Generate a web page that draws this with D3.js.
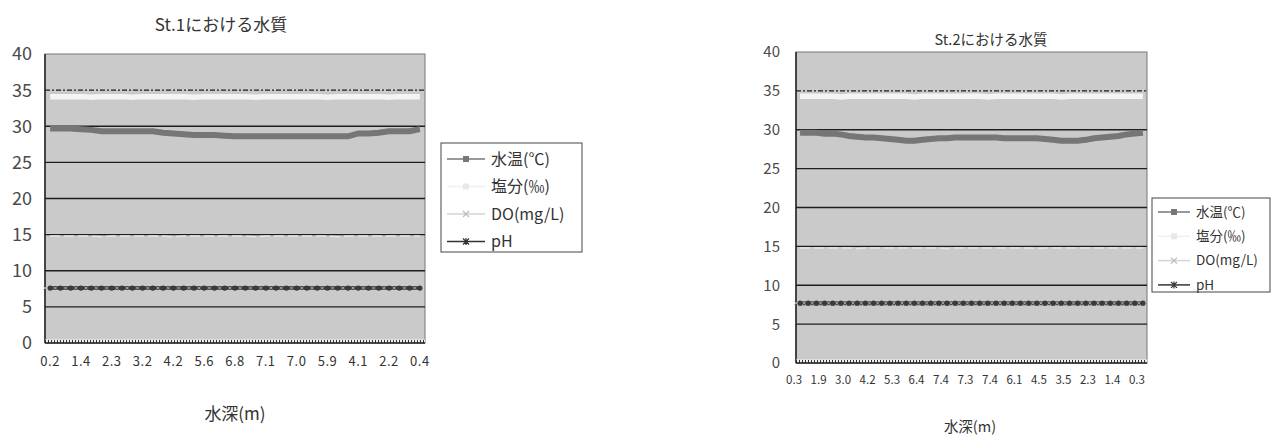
<!DOCTYPE html>
<html>
<head>
<meta charset="utf-8">
<script src="https://cdn.jsdelivr.net/npm/d3@7"></script>
<style>
  body { margin: 0; background: #fff; }
  svg { display: block; font-family: "Noto Sans CJK JP", "Noto Sans", sans-serif; }
</style>
</head>
<body>
<svg id="chart" width="1279" height="436"></svg>
<script>
// series names (legend)
const seriesNames = ['水温(℃)', '塩分(‰)', 'DO(mg/L)', 'pH'];
const yTicks = [0, 5, 10, 15, 20, 25, 30, 35, 40];

// St.1 - 37 measurement points, a depth label every 3rd point
const st1Labels = ['0.2', '1.4', '2.3', '3.2', '4.2', '5.6', '6.8', '7.1', '7.0', '5.9', '4.1', '2.2', '0.4'];
const st1Temp = [29.7, 29.7, 29.7, 29.6, 29.5, 29.3, 29.3, 29.3, 29.3, 29.3, 29.3, 29.1, 29.0,
  28.9, 28.8, 28.8, 28.8, 28.7, 28.6, 28.6, 28.6, 28.6, 28.6, 28.6, 28.6, 28.6, 28.6, 28.6,
  28.6, 28.6, 29.0, 29.0, 29.1, 29.3, 29.3, 29.3, 29.6];
const st1Sal = [34.1, 34.1, 34.1, 34.1, 34.0, 34.1, 34.1, 34.1, 34.0, 34.1, 34.1, 34.1, 34.1,
  34.1, 34.0, 34.1, 34.1, 34.1, 34.1, 34.1, 34.0, 34.1, 34.1, 34.1, 34.1, 34.1, 34.1, 34.0,
  34.1, 34.1, 34.1, 34.1, 34.1, 34.0, 34.1, 34.1, 34.1];
const st1DO = [14.8, 14.8, 14.8, 14.8, 14.8, 14.7, 14.8, 14.8, 14.8, 14.8, 14.8, 14.8, 14.7,
  14.8, 14.8, 14.8, 14.8, 14.8, 14.8, 14.8, 14.7, 14.8, 14.8, 14.8, 14.8, 14.8, 14.8, 14.8,
  14.7, 14.8, 14.8, 14.8, 14.8, 14.8, 14.8, 14.8, 14.8];
const st1PH = [7.6, 7.6, 7.6, 7.6, 7.6, 7.6, 7.6, 7.6, 7.6, 7.6, 7.6, 7.6, 7.6,
  7.6, 7.6, 7.6, 7.6, 7.6, 7.6, 7.6, 7.6, 7.6, 7.6, 7.6, 7.6, 7.6, 7.6, 7.6,
  7.6, 7.6, 7.6, 7.6, 7.6, 7.6, 7.6, 7.6, 7.6];

// St.2 - 43 measurement points
const st2Labels = ['0.3', '1.9', '3.0', '4.2', '5.3', '6.4', '7.4', '7.3', '7.4', '6.1', '4.5', '3.5', '2.3', '1.4', '0.3'];
const st2Temp = [29.6, 29.6, 29.6, 29.5, 29.5, 29.4, 29.2, 29.1, 29.0, 29.0, 28.9, 28.8, 28.7,
  28.6, 28.6, 28.7, 28.8, 28.9, 28.9, 29.0, 29.0, 29.0, 29.0, 29.0, 29.0, 28.9, 28.9, 28.9,
  28.9, 28.9, 28.8, 28.7, 28.6, 28.6, 28.6, 28.7, 28.9, 29.0, 29.1, 29.2, 29.4, 29.5, 29.6];
const st2Sal = [34.3, 34.3, 34.3, 34.3, 34.3, 34.2, 34.3, 34.3, 34.3, 34.3, 34.3, 34.3, 34.3,
  34.3, 34.2, 34.3, 34.3, 34.3, 34.3, 34.3, 34.3, 34.3, 34.3, 34.2, 34.3, 34.3, 34.3, 34.3,
  34.3, 34.3, 34.3, 34.3, 34.2, 34.3, 34.3, 34.3, 34.3, 34.3, 34.3, 34.3, 34.3, 34.3, 34.3];
const st2DO = [14.8, 14.8, 14.8, 14.8, 14.8, 14.8, 14.8, 14.7, 14.8, 14.8, 14.8, 14.8, 14.8,
  14.8, 14.8, 14.8, 14.8, 14.8, 14.7, 14.8, 14.8, 14.8, 14.8, 14.8, 14.8, 14.8, 14.8, 14.8,
  14.8, 14.7, 14.8, 14.8, 14.8, 14.8, 14.8, 14.8, 14.8, 14.8, 14.8, 14.8, 14.8, 14.8, 14.8];
const st2PH = [7.7, 7.7, 7.7, 7.7, 7.7, 7.7, 7.7, 7.7, 7.7, 7.7, 7.7, 7.7, 7.7,
  7.7, 7.7, 7.7, 7.7, 7.7, 7.7, 7.7, 7.7, 7.7, 7.7, 7.7, 7.7, 7.7, 7.7, 7.7,
  7.7, 7.7, 7.7, 7.7, 7.7, 7.7, 7.7, 7.7, 7.7, 7.7, 7.7, 7.7, 7.7, 7.7, 7.7];

const svg = d3.select('#chart');

function drawChart(opt) {
  const g = svg.append('g');
  const n = opt.temp.length;

  const x = d3.scaleBand().domain(d3.range(n)).range([opt.left, opt.right]);
  const y = d3.scaleLinear().domain([0, 40]).range([opt.bottom, opt.top]);
  const cx = i => x(i) + x.bandwidth() / 2;

  // plot area
  g.append('rect')
    .attr('x', opt.left).attr('y', opt.top)
    .attr('width', opt.right - opt.left).attr('height', opt.bottom - opt.top)
    .attr('fill', '#cacaca').attr('stroke', '#777').attr('stroke-width', 1);

  // gridlines
  g.selectAll('.grid').data(yTicks.filter(d => d > 0 && d < 40)).enter()
    .append('line')
    .attr('x1', opt.left).attr('x2', opt.right)
    .attr('y1', d => y(d)).attr('y2', d => y(d))
    .attr('stroke', '#1e1e1e').attr('stroke-width', 1.3)
    .attr('stroke-dasharray', d => d === 35 ? '5,2,2,2' : null);

  // left axis line
  g.append('line')
    .attr('x1', opt.left).attr('x2', opt.left)
    .attr('y1', opt.top).attr('y2', opt.bottom)
    .attr('stroke', '#222').attr('stroke-width', 1.5);

  // y tick labels
  g.selectAll('.ylab').data(yTicks).enter()
    .append('text')
    .attr('x', opt.yLabelX).attr('y', d => y(d))
    .attr('dy', '0.36em')
    .attr('text-anchor', 'end')
    .attr('font-size', opt.yFont)
    .attr('fill', '#4a4a4a')
    .text(d => d);

  const line = vals => d3.line().x((d, i) => cx(i)).y(d => y(d))(vals);

  // series
  g.append('path').attr('d', line(opt.dO)).attr('fill', 'none')
    .attr('stroke', '#e6e6e6').attr('stroke-width', 1.5).attr('stroke-dasharray', '10,4');
  g.append('path').attr('d', line(opt.sal)).attr('fill', 'none')
    .attr('stroke', '#f4f4f4').attr('stroke-width', 5.5);
  g.append('path').attr('d', line(opt.temp)).attr('fill', 'none')
    .attr('stroke', '#767676').attr('stroke-width', 6);
  g.append('path').attr('d', line(opt.ph)).attr('fill', 'none')
    .attr('stroke', '#444').attr('stroke-width', 4);
  g.selectAll('.phm').data(opt.ph).enter()
    .append('circle')
    .attr('cx', (d, i) => cx(i)).attr('cy', d => y(d))
    .attr('r', 2.6).attr('fill', '#3a3a3a');
  g.selectAll('.phx').data(opt.ph).enter()
    .append('path')
    .attr('d', (d, i) => {
      const px = x(i), py = y(d);
      return `M${px - 1.5},${py - 1.5}L${px + 1.5},${py + 1.5}M${px - 1.5},${py + 1.5}L${px + 1.5},${py - 1.5}`;
    })
    .attr('stroke', '#aaa').attr('stroke-width', 1);

  // bottom axis with fine tick pattern
  g.append('line')
    .attr('x1', opt.left).attr('x2', opt.right)
    .attr('y1', opt.bottom - 2).attr('y2', opt.bottom - 2)
    .attr('stroke', '#f2f2f2').attr('stroke-width', 3);
  g.append('line')
    .attr('x1', opt.left).attr('x2', opt.right)
    .attr('y1', opt.bottom - 1.5).attr('y2', opt.bottom - 1.5)
    .attr('stroke', '#333').attr('stroke-width', 3).attr('stroke-dasharray', '1,2');
  g.append('line')
    .attr('x1', opt.left).attr('x2', opt.right)
    .attr('y1', opt.bottom).attr('y2', opt.bottom)
    .attr('stroke', '#222').attr('stroke-width', 1.5);

  // x tick labels (every 3rd point)
  const xAxis = d3.axisBottom(x)
    .tickValues(d3.range(0, n, 3))
    .tickFormat(i => opt.labels[i / 3])
    .tickSize(0).tickPadding(opt.xPad);
  const ax = g.append('g').attr('transform', `translate(${opt.xShift},${opt.bottom})`).call(xAxis);
  ax.select('.domain').remove();
  ax.selectAll('text').attr('font-size', opt.xFont).attr('fill', '#333')
    .attr('letter-spacing', opt.xSpacing)
    .attr('font-family', '"Noto Sans CJK JP", "Noto Sans", sans-serif');

  // titles
  g.append('text').attr('x', opt.titleX).attr('y', opt.titleY)
    .attr('text-anchor', 'middle').attr('font-size', opt.titleFont).attr('fill', '#333')
    .text(opt.title);
  g.append('text').attr('x', opt.xTitleX).attr('y', opt.xTitleY)
    .attr('text-anchor', 'middle').attr('font-size', opt.titleFont).attr('fill', '#333')
    .text('水深(m)');

  // legend
  const lg = opt.legend;
  g.append('rect').attr('x', lg.x).attr('y', lg.y).attr('width', lg.w).attr('height', lg.h)
    .attr('fill', '#fff').attr('stroke', '#444').attr('stroke-width', 1);
  const styles = [
    {stroke: '#777', marker: 'square', mcol: '#777'},
    {stroke: '#f0f0f0', marker: 'square', mcol: '#e8e8e8'},
    {stroke: '#d4d4d4', marker: 'x', mcol: '#bbb'},
    {stroke: '#333', marker: 'star', mcol: '#333'}
  ];
  seriesNames.forEach((name, k) => {
    const ly = lg.y + lg.pad + k * lg.step;
    const s = styles[k];
    g.append('line').attr('x1', lg.x + 6).attr('x2', lg.x + 6 + lg.sample)
      .attr('y1', ly).attr('y2', ly).attr('stroke', s.stroke).attr('stroke-width', 1.5);
    const mx = lg.x + 6 + lg.sample / 2;
    if (s.marker === 'square') {
      g.append('rect').attr('x', mx - 3).attr('y', ly - 3).attr('width', 6).attr('height', 6)
        .attr('fill', s.mcol);
    } else {
      g.append('path')
        .attr('d', `M${mx - 3},${ly - 3}L${mx + 3},${ly + 3}M${mx - 3},${ly + 3}L${mx + 3},${ly - 3}` +
          (s.marker === 'star' ? `M${mx},${ly - 3.5}L${mx},${ly + 3.5}` : ''))
        .attr('stroke', s.mcol).attr('stroke-width', 1.2);
    }
    g.append('text').attr('x', lg.x + 12 + lg.sample).attr('y', ly)
      .attr('dy', '0.36em').attr('font-size', lg.font).attr('fill', '#333')
      .text(name);
  });
}

drawChart({
  title: 'St.1における水質', labels: st1Labels,
  temp: st1Temp, sal: st1Sal, dO: st1DO, ph: st1PH,
  left: 45, right: 425, top: 54, bottom: 343,
  yLabelX: 32, yFont: 18, xFont: 13, xSpacing: 0.5, xPad: 14, xShift: 0,
  titleX: 221, titleY: 31, titleFont: 17,
  xTitleX: 235, xTitleY: 420,
  legend: {x: 441, y: 143, w: 141, h: 109, pad: 16, step: 27.5, sample: 38, font: 16}
});

drawChart({
  title: 'St.2における水質', labels: st2Labels,
  temp: st2Temp, sal: st2Sal, dO: st2DO, ph: st2PH,
  left: 796, right: 1147, top: 52, bottom: 363,
  yLabelX: 780, yFont: 15, xFont: 11.5, xSpacing: 0, xPad: 13, xShift: -6,
  titleX: 991, titleY: 45, titleFont: 14.5,
  xTitleX: 970, xTitleY: 432,
  legend: {x: 1152, y: 198, w: 118, h: 94, pad: 14, step: 24.3, sample: 32, font: 13.5}
});
</script>
</body>
</html>
